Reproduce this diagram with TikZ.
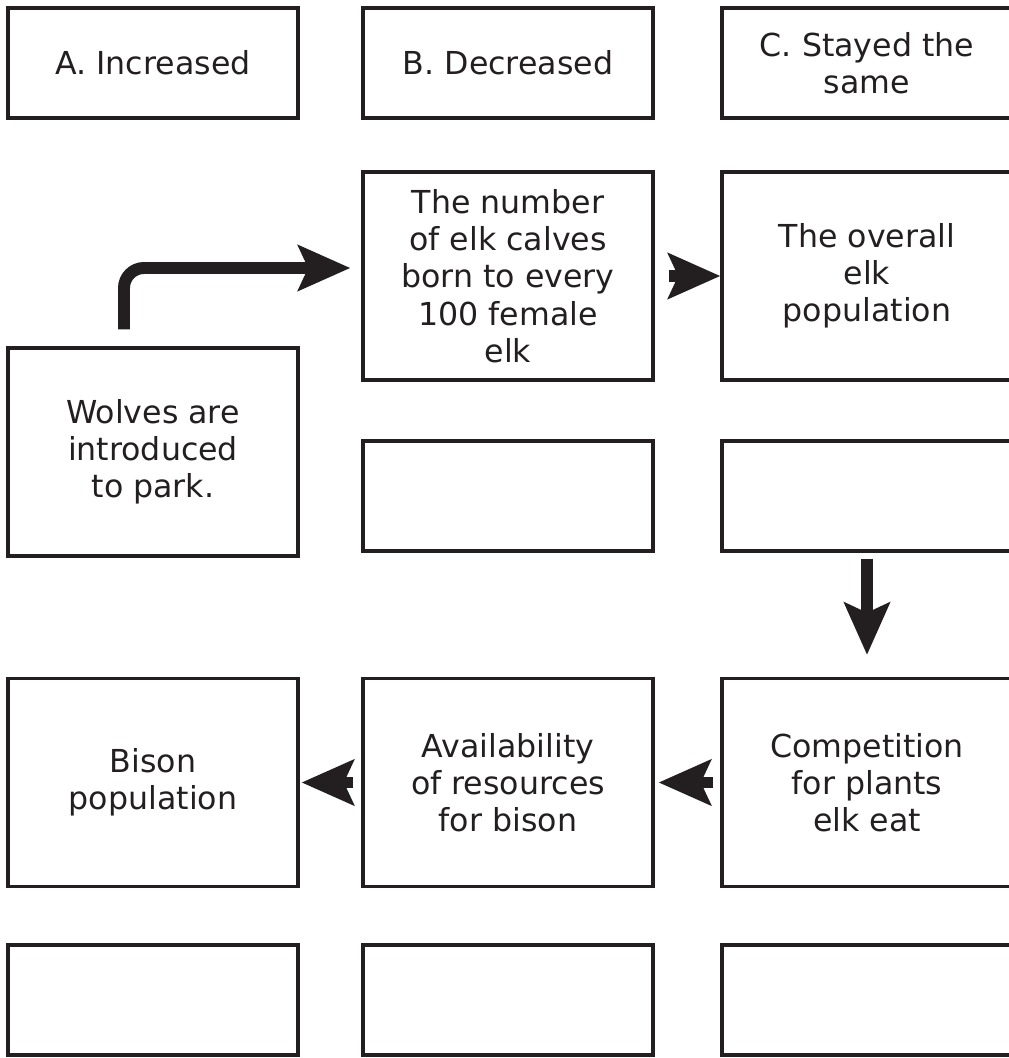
\documentclass[tikz,border=0pt]{standalone}
\usepackage{fontspec}
\setmainfont{DejaVu Sans}
\usepackage{xcolor}
\usepackage{tikz}
\usetikzlibrary{positioning,calc,arrows.meta}
\definecolor{ink}{HTML}{231F20}

\begin{document}
\begin{tikzpicture}[x=0.025cm, y=-0.025cm,
    box/.style={draw=ink, line width=2.2pt, minimum width=7.25cm, inner sep=0pt, align=center, text=ink, font=\fontsize{22.5}{26.5}\selectfont},
    shortbox/.style={box, minimum height=2.75cm},
    tallbox/.style={box, minimum height=5.2cm},
    bigarrow/.style={draw=ink, line width=8.5pt, -{Stealth[length=37pt, width=32pt, inset=7pt]}}]
    \useasboundingbox (0,0) rectangle (1008,1058);
    % answer choices
    \node[shortbox] (incr) at (153,63) {A. Increased};
    \node[shortbox] (decr) at (508,63) {B. Decreased};
    \node[shortbox] (same) at (867,63) {C. Stayed the\\same};
    % chain of effects
    \node[tallbox] (wolves) at (153,452) {Wolves are\\introduced\\to park.};
    \node[tallbox] (calves) at (508,276) {The number\\of elk calves\\born to every\\100 female\\elk};
    \node[tallbox] (elkpop) at (867,276) {The overall\\elk\\population};
    \node[tallbox] (compet) at (867,782.5) {Competition\\for plants\\elk eat};
    \node[tallbox] (avail) at (508,782.5) {Availability\\of resources\\for bison};
    \node[tallbox] (bison) at (153,782.5) {Bison\\population};
    % empty answer boxes
    \node[shortbox] (ansB) at (508,496) {};
    \node[shortbox] (ansC) at (867,496) {};
    \foreach \x/\n in {153/botA, 508/botB, 867/botC}
        \node[shortbox] (\n) at (\x,1000) {};
    % arrows
    \draw[bigarrow, rounded corners=0.5cm] ([xshift=-0.725cm, yshift=0.425cm]wolves.north) |- ([xshift=-0.275cm, yshift=0.2cm]calves.west);
    \draw[bigarrow, shorten <=0.35cm] (calves.east) -- (elkpop.west);
    \draw[bigarrow, shorten <=0.15cm, shorten >=0.55cm] (ansC.south) -- (compet.north);
    \draw[bigarrow, shorten <=0.175cm, shorten >=0.1cm] (compet.west) -- (avail.east);
    \draw[bigarrow, shorten <=0.2cm, shorten >=0.05cm] (avail.west) -- (bison.east);
\end{tikzpicture}
\end{document}
